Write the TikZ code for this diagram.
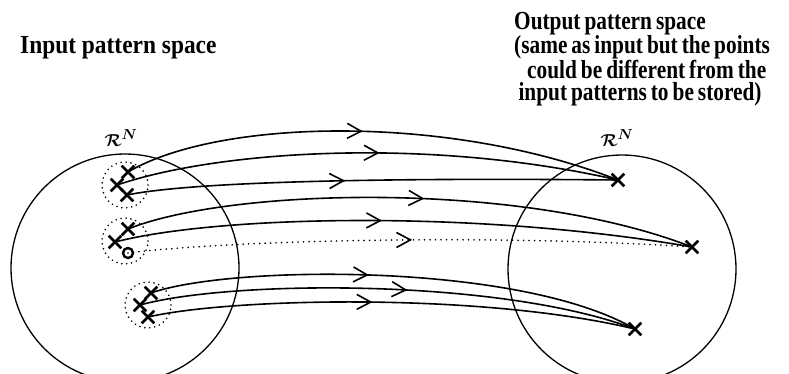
\documentclass[tikz,border=0pt]{standalone}
\usepackage{bm}
\usepackage{fontspec}
\newfontfamily\intitlefont{Liberation Serif}[FakeStretch=0.9]
\newfontfamily\outtitlefont{Liberation Serif}[FakeStretch=0.82,WordSpace=0.75]
\usepackage{tikz}
\usetikzlibrary{positioning,arrows.meta,shapes.misc,decorations.markings}

\begin{document}
\begin{tikzpicture}[x=1pt,y=-1pt,
  bigspace/.style={draw,circle,line width=1.3pt,inner sep=0pt,minimum size=228pt},
  cluster/.style={draw,circle,line width=1.8pt,line cap=round,dash pattern=on 0pt off 5pt,inner sep=0pt,minimum size=46pt},
  xpt/.style={draw,cross out,line width=2.6pt,inner sep=0pt,minimum size=10pt},
  opt/.style={draw,circle,line width=2.4pt,inner sep=0pt,minimum size=10pt},
  title/.style={inner sep=0pt,font=#1\bfseries\fontsize{26}{22}\selectfont},
  rn/.style={inner sep=0pt,font=\fontsize{19}{22}\selectfont},
  flow/.style={line width=1.6pt,postaction={decorate},
    decoration={markings,mark=at position #1 with {\arrow{Straight Barb[length=14pt,width=15pt,line width=1.6pt]}}}},
  dotflow/.style={flow=#1,line cap=round,dash pattern=on 0pt off 5.5pt,line width=1.8pt}]
\useasboundingbox (0,0) rectangle (789,373);
\node[bigspace] (inspace) at (125,268) {};
\node[bigspace] (outspace) at (622,269) {};
\node[rn] (rnin) at (121,138) {$\bm{\mathcal{R}}^{\bm{N}}$};
\node[rn] (rnout) at (617,138) {$\bm{\mathcal{R}}^{\bm{N}}$};
\node[title=\intitlefont,anchor=base west] (intitle) at (20,53) {Input pattern space};
\node[title=\outtitlefont,anchor=north west,align=left] (outtitle) at (514,12) {Output pattern space\\(same as input but the points\\ \,\,\,could be different from the\\ \,input patterns to be stored)};
\node[cluster] (c1) at (125,185) {};
\node[cluster] (c2) at (125,241) {};
\node[cluster] (c3) at (148,305) {};
\node[xpt] (a1) at (128,172) {};
\node[xpt] (a2) at (117,185) {};
\node[xpt] (a3) at (127,195) {};
\node[xpt] (a4) at (128,229) {};
\node[xpt] (a5) at (115,242) {};
\node[opt] (a6) at (128,253) {};
\node[xpt] (a7) at (151,293) {};
\node[xpt] (a8) at (140,305) {};
\node[xpt] (a9) at (148,317) {};
\node[xpt] (b1) at (618,180) {};
\node[xpt] (b2) at (692,247) {};
\node[xpt] (b3) at (635,329) {};
\draw[flow=0.48] (a1.center) .. controls (220,118) and (450,114) .. (b1.center);
\draw[flow=0.525] (a2.center) .. controls (220,150) and (430,137) .. (b1.center);
\draw[flow=0.445] (a3.center) .. controls (200,180) and (420,178) .. (b1.center);
\draw[flow=0.523] (a4.center) .. controls (230,188) and (520,180) .. (b2.center);
\draw[flow=0.463] (a5.center) .. controls (220,215) and (480,210) .. (b2.center);
\draw[dotflow=0.504] (a6.center) .. controls (230,240) and (500,234) .. (b2.center);
\draw[flow=0.445] (a7.center) .. controls (230,265) and (520,262) .. (b3.center);
\draw[flow=0.537] (a8.center) .. controls (230,280) and (500,278) .. (b3.center);
\draw[flow=0.46] (a9.center) .. controls (230,298) and (480,292) .. (b3.center);
\end{tikzpicture}
\end{document}
